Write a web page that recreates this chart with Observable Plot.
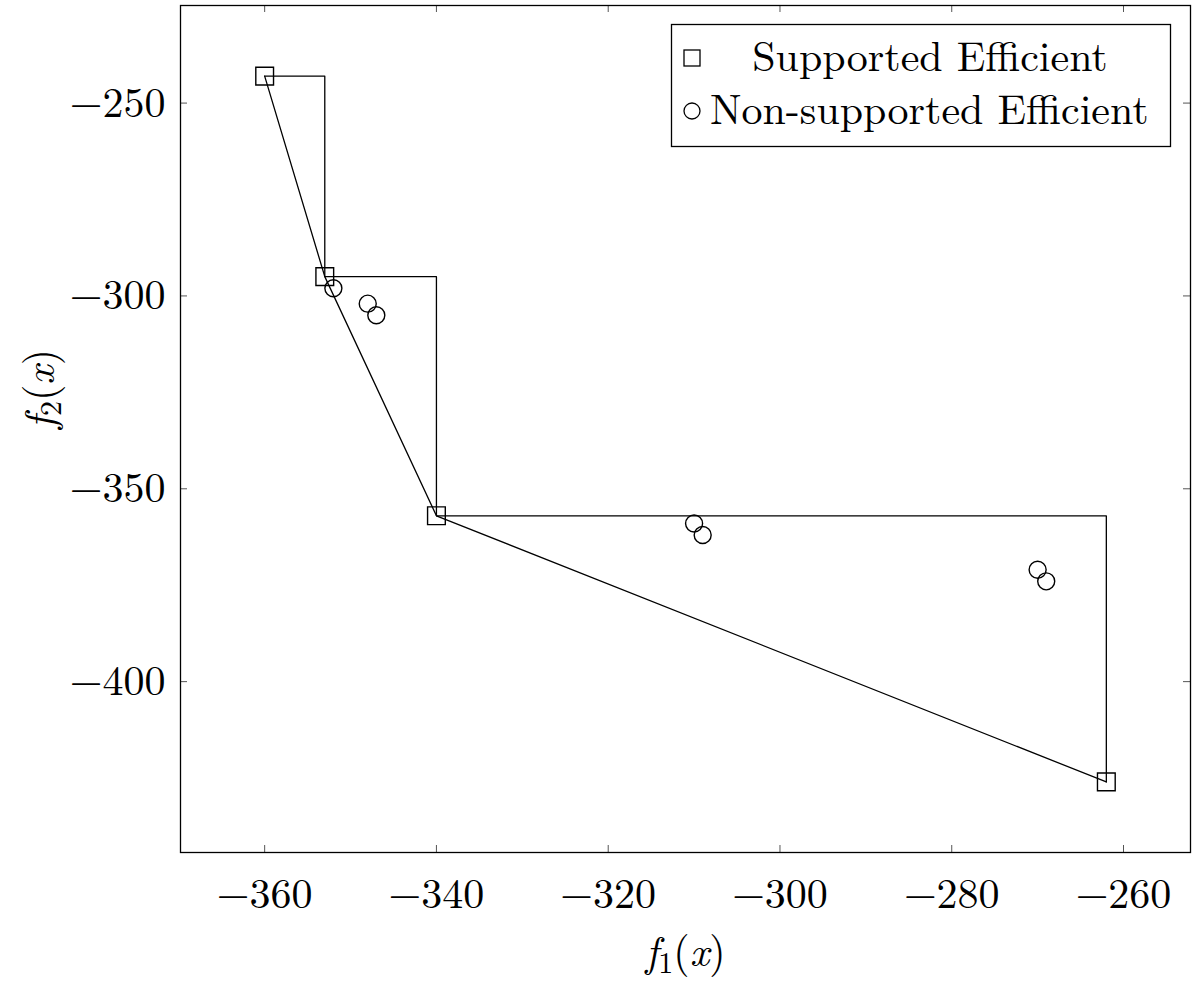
<!DOCTYPE html>
<html><head><meta charset="utf-8">
<script src="https://cdn.jsdelivr.net/npm/d3@7"></script>
<script src="https://cdn.jsdelivr.net/npm/@observablehq/plot@0.6"></script>
<style>
body{margin:0;background:#fff;}
#wrap{width:1199px;height:981px;}
</style></head><body><div id="wrap"></div>
<script>
const supportedF1 = [-360, -353, -340, -262];
const supportedF2 = [-243, -295, -357, -426];
const nonSupportedF1 = [-352, -348, -347, -310, -309, -270, -269];
const nonSupportedF2 = [-298, -302, -305, -359, -362, -371, -374];
const xTicks = [-360, -340, -320, -300, -280, -260];
const yTicks = [-250, -300, -350, -400];
const legendLabels = ["Supported Efficient", "Non-supported Efficient"];

const supported = supportedF1.map((x, i) => ({x, y: supportedF2[i]}));
const nonSupported = nonSupportedF1.map((x, i) => ({x, y: nonSupportedF2[i]}));

const W = 1199, H = 981;
const mL = 180, mR = 9, mT = 5, mB = 129;
const frameH = H - mT - mB, frameW = W - mL - mR;
const FONT = "Latin Modern Roman";
const FS = 42;

const plot = Plot.plot({
  width: W, height: H,
  marginLeft: mL, marginRight: mR, marginTop: mT, marginBottom: mB,
  style: {fontFamily: FONT, fontSize: FS + "px", color: "#000", background: "#fff"},
  x: {domain: [-369.8, -252.2]},
  y: {domain: [-444.3, -224.7]},
  marks: [
    Plot.tickX(xTicks, {x: d => d, insetTop: frameH - 7, stroke: "#555", strokeWidth: 1}),
    Plot.tickX(xTicks, {x: d => d, insetBottom: frameH - 7, stroke: "#555", strokeWidth: 1}),
    Plot.tickY(yTicks, {y: d => d, insetRight: frameW - 7, stroke: "#555", strokeWidth: 1}),
    Plot.tickY(yTicks, {y: d => d, insetLeft: frameW - 7, stroke: "#555", strokeWidth: 1}),
    Plot.axisX(xTicks, {tickSize: 0, tickPadding: 26, fontSize: FS, label: null}),
    Plot.axisY(yTicks, {tickSize: 0, tickPadding: 15, fontSize: FS, label: null}),
    Plot.line(supported, {x: "x", y: "y", curve: "step-after", stroke: "#000", strokeWidth: 1.3}),
    Plot.line(supported, {x: "x", y: "y", stroke: "#000", strokeWidth: 1.3}),
    Plot.dot(supported, {x: "x", y: "y", symbol: "square", r: 10, stroke: "#000", fill: "none", strokeWidth: 1.4}),
    Plot.dot(nonSupported, {x: "x", y: "y", symbol: "circle", r: 8.5, stroke: "#000", fill: "none", strokeWidth: 1.4}),
    Plot.text(["f1(x)"], {frameAnchor: "bottom", dy: 100, fontSize: FS, className: "xlab", lineAnchor: "middle"}),
    Plot.text(["f2(x)"], {frameAnchor: "left", dx: -140, rotate: -90, fontSize: FS, className: "ylab", lineAnchor: "middle"}),
    Plot.frame({stroke: "#000", strokeWidth: 1.3})
  ]
});
document.getElementById("wrap").appendChild(plot);

const svg = d3.select(plot);
function mathLabel(sel, sub) {
  sel.each(function() {
    const t = d3.select(this);
    t.text(null);
    t.append("tspan").attr("font-style", "italic").text("f");
    t.append("tspan").attr("font-size", 30).attr("dy", 7).text(sub);
    t.append("tspan").attr("dy", -7).text("(");
    t.append("tspan").attr("font-style", "italic").text("x");
    t.append("tspan").text(")");
  });
}
mathLabel(svg.selectAll(".xlab text"), "1");
mathLabel(svg.selectAll(".ylab text"), "2");

// legend
const lg = svg.append("g").attr("font-family", FONT).attr("font-size", FS);
lg.append("rect").attr("x", 671.5).attr("y", 24.5).attr("width", 499).attr("height", 122)
  .attr("fill", "#fff").attr("stroke", "#000").attr("stroke-width", 1.3);
lg.append("rect").attr("x", 684).attr("y", 50).attr("width", 16).attr("height", 16)
  .attr("fill", "none").attr("stroke", "#000").attr("stroke-width", 1.3);
lg.append("circle").attr("cx", 692).attr("cy", 111).attr("r", 8)
  .attr("fill", "none").attr("stroke", "#000").attr("stroke-width", 1.3);
lg.append("text").attr("x", 930).attr("y", 58).attr("dy", "0.32em").attr("text-anchor", "middle").text(legendLabels[0]);
lg.append("text").attr("x", 710).attr("y", 111).attr("dy", "0.32em").attr("text-anchor", "start").text(legendLabels[1]);
</script></body></html>
